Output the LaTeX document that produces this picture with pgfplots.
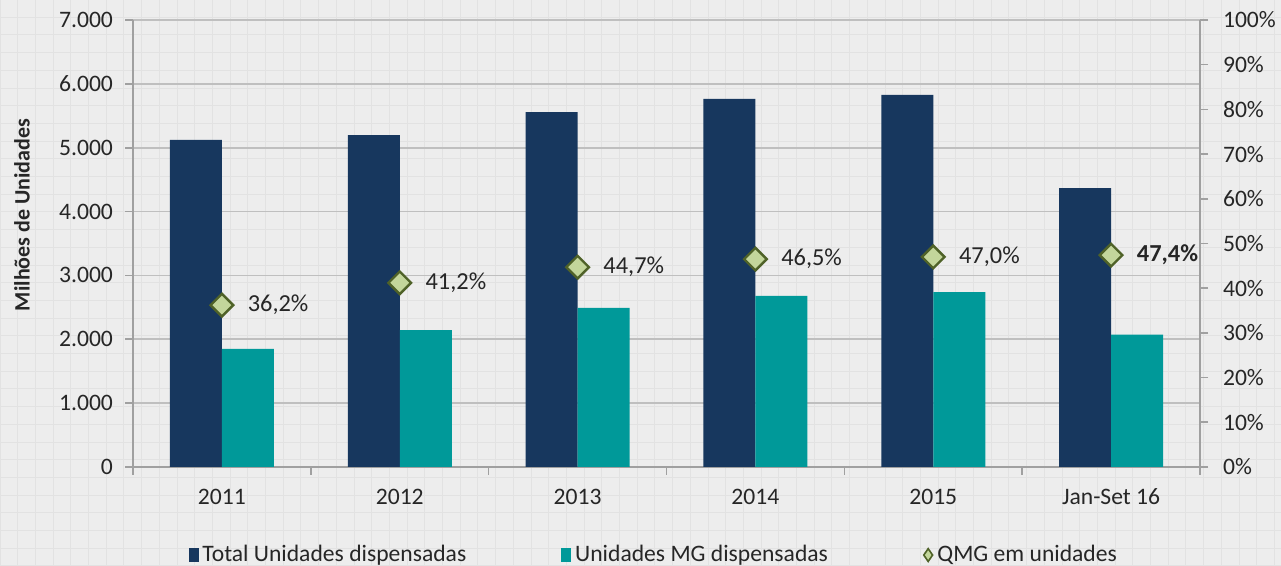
\documentclass[border=0pt]{standalone}
\usepackage{fontspec}
\setmainfont{Carlito}
\usepackage{pgfplots}
\pgfplotsset{compat=1.18}

\definecolor{navy}{HTML}{17375E}
\definecolor{tealbar}{HTML}{009999}
\definecolor{dfill}{HTML}{C3D69B}
\definecolor{dline}{HTML}{4F6228}
\definecolor{bg}{HTML}{EDEDED}
\definecolor{bgline}{HTML}{E2E2E2}
\definecolor{axgray}{HTML}{A0A0A0}
\definecolor{gridgray}{HTML}{BFBFBF}
\definecolor{txt}{HTML}{262626}

\pgfplotsset{common/.style={
  at={(66.5pt,49.5pt)}, anchor=south west,
  scale only axis, width=533.5pt, height=223.5pt,
  xmin=-0.5, xmax=5.5, ymin=0,
  font=\fontsize{11.8}{14}\selectfont,
  tick label style={text=txt},
  /pgf/number format/assume math mode=true,
  axis line style={axgray, line width=0.8pt},
  tick style={axgray, line width=0.8pt},
  major tick length=4pt, minor tick length=4pt,
  tick align=outside,
}}

\begin{document}
\begin{tikzpicture}
\useasboundingbox (0,0) rectangle (640.5pt,283pt);
\fill[bg] (0,0) rectangle (640.5pt,283pt);
\draw[bgline, line width=0.5pt, step=8.85pt] (0,0) grid (640.5pt,283pt);

\begin{axis}[common,
  ybar=0pt, bar width=26pt,
  ymax=7000, ytick={0,1000,...,7000},
  axis x line*=bottom, axis y line*=left,
  ymajorgrids, grid style={gridgray, line width=0.8pt},
  yticklabel style={xshift=-2.5pt, /pgf/number format/.cd, 1000 sep={.}},
  xticklabel style={yshift=-3.5pt},
  xtick={0,...,5},
  xticklabels={2011,2012,2013,2014,2015,Jan-Set 16},
  major x tick style={draw=none},
  minor xtick={-0.5,0.5,...,5.5},
  ylabel={\bfseries Milhões de Unidades},
  ylabel style={at={(axis description cs:-0.104,0.564)}, anchor=center,
    font=\fontsize{11}{13}\selectfont, text=txt},
]
\addplot[fill=navy, draw=none] coordinates
  {(0,5121) (1,5199) (2,5559) (3,5763) (4,5826) (5,4369)};
\addplot[fill=tealbar, draw=none] coordinates
  {(0,1848) (1,2145) (2,2490) (3,2680) (4,2738) (5,2071)};
\end{axis}

\begin{axis}[common,
  ymax=100, ytick={0,10,...,100},
  yticklabel={\pgfmathprintnumber{\tick}\%},
  yticklabel style={xshift=4pt},
  axis y line*=right, axis x line=none,
  legend columns=3,
  legend cell align=left,
  legend style={at={(axis description cs:0.489,-0.197)}, anchor=center,
    draw=none, fill=none, text=txt, font=\fontsize{11.8}{14}\selectfont,
    /tikz/every even column/.append style={column sep=45.5pt}},
]
\addlegendimage{legend image code/.code={\fill[navy] (0pt,-3.2pt) rectangle (4.5pt,3.2pt);}}
\addlegendentry{Total Unidades dispensadas}
\addlegendimage{legend image code/.code={\fill[tealbar] (0pt,-3.2pt) rectangle (4.5pt,3.2pt);}}
\addlegendentry{Unidades MG dispensadas}
\addlegendimage{legend image code/.code={\draw[fill=dfill, draw=dline, line width=0.8pt] (2.5pt,3.2pt) -- (4.7pt,0pt) -- (2.5pt,-3.2pt) -- (0.3pt,0pt) -- cycle;}}
\addlegendentry{QMG em unidades}
\addplot[forget plot, only marks, mark=square*, mark size=4pt,
  mark options={rotate=45, fill=dfill, draw=dline, line width=1.2pt},
  nodes near coords, point meta=explicit symbolic,
  every node near coord/.append style={anchor=west, xshift=9pt, text=txt,
    font=\fontsize{12.2}{14}\selectfont}]
  coordinates {
  (0,36.2) [36,2\%]
  (1,41.2) [41,2\%]
  (2,44.7) [44,7\%]
  (3,46.5) [46,5\%]
  (4,47.0) [47,0\%]
  (5,47.4) [\textbf{47,4\%}]
  };
\end{axis}
\end{tikzpicture}
\end{document}
